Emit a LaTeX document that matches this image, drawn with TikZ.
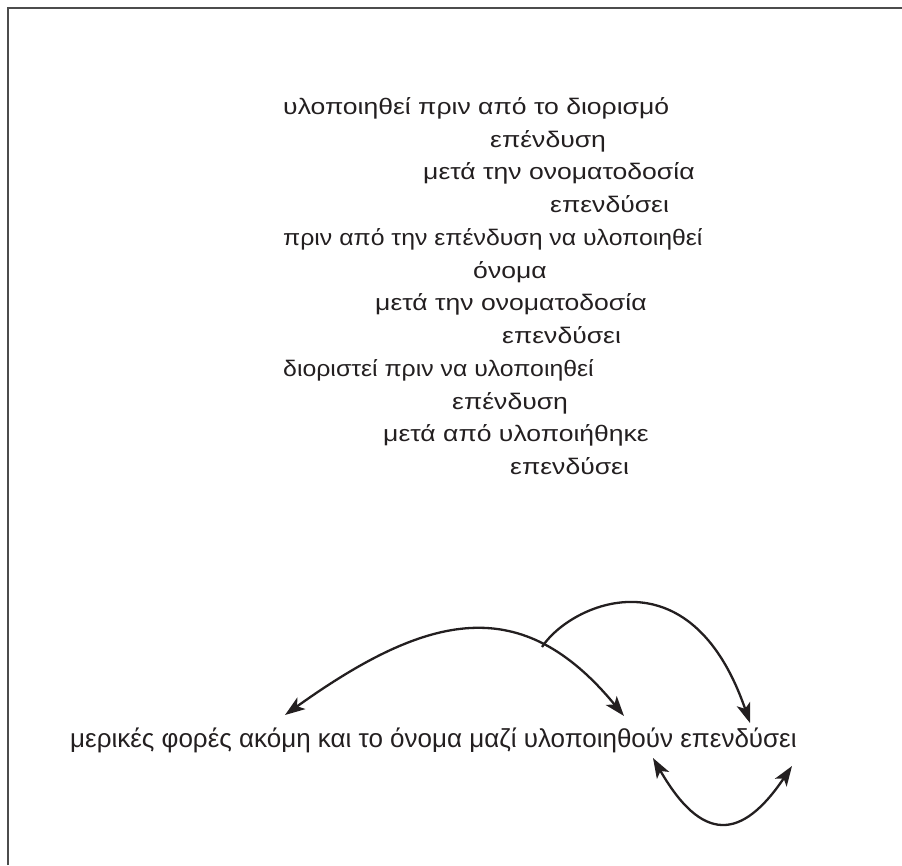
\documentclass[tikz,border=0pt]{standalone}
\usepackage{fontspec}
\setmainfont{Liberation Sans}
\usetikzlibrary{arrows.meta}
\definecolor{ink}{HTML}{231F20}
\begin{document}
\begin{tikzpicture}[x=1pt,y=-1pt,
  line/.style={text=ink,font=\fontsize{22.5}{24}\selectfont,anchor=base west,inner sep=0pt,xscale=1.18},
  narrowline/.style={line,xscale=0.935},
  big/.style={text=ink,font=\fontsize{26}{28}\selectfont,anchor=base west,inner sep=0pt},
  arc/.style={draw=ink,line width=2.3pt,-{Stealth[length=20pt,width=14pt,inset=5pt]}},
  darc/.style={draw=ink,line width=2.3pt,{Stealth[length=20pt,width=14pt,inset=5pt]}-{Stealth[length=20pt,width=14pt,inset=5pt]}}]
\useasboundingbox (0,0) rectangle (902,865);
\draw[draw=gray!60!black,line width=1.3pt] (8,865) -- (8,8) -- (902,8);
\node[line] (t1) at (283,114) {υλοποιηθεί πριν από το διορισμό};
\node[line] (t2) at (490,147) {επένδυση};
\node[line] (t3) at (423,179.5) {μετά την ονοματοδοσία};
\node[line] (t4) at (550,212) {επενδύσει};
\node[narrowline] (t5) at (283,245) {πριν από την επένδυση να υλοποιηθεί};
\node[line] (t6) at (473,278) {όνομα};
\node[line] (t7) at (375,310.5) {μετά την ονοματοδοσία};
\node[line] (t8) at (502,343) {επενδύσει};
\node[narrowline] (t9) at (283,376) {διοριστεί πριν να υλοποιηθεί};
\node[line] (t10) at (452,409) {επένδυση};
\node[line] (t11) at (383,441.5) {μετά από υλοποιήθηκε};
\node[line] (t12) at (510,474) {επενδύσει};
\node[big] (b) at (70,747) {μερικές φορές ακόμη και το όνομα μαζί υλοποιηθούν επενδύσει};
\coordinate (aL) at (285,715);
\coordinate (aR) at (624,716);
\coordinate (bS) at (542,647);
\coordinate (bE) at (750,723);
\coordinate (cL) at (653,758);
\coordinate (cR) at (792,766);
\draw[darc] (aL) .. controls (429,612) and (522,592) .. (aR);
\draw[arc] (bS) .. controls (570,604) and (690,549) .. (bE);
\draw[darc] (cL) .. controls (702,843) and (741.5,841) .. (cR);
\end{tikzpicture}
\end{document}
